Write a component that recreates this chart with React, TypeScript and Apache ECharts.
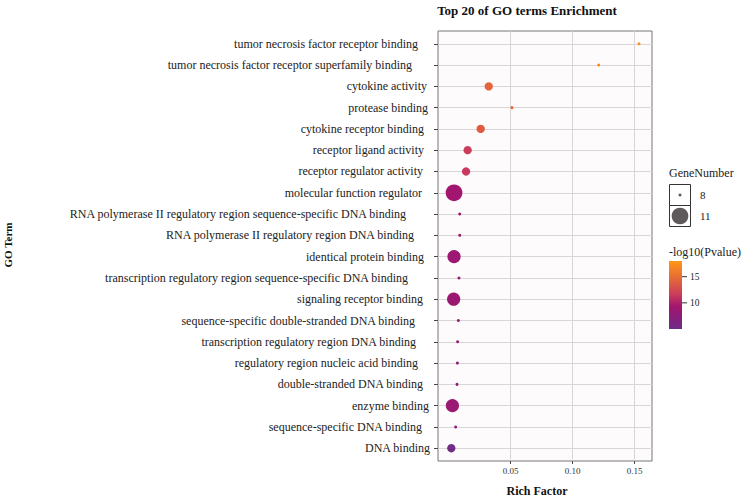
import React, { useEffect, useRef } from "react";
import * as echarts from "echarts";

const categories = [
  "tumor necrosis factor receptor binding",
  "tumor necrosis factor receptor superfamily binding",
  "cytokine activity",
  "protease binding",
  "cytokine receptor binding",
  "receptor ligand activity",
  "receptor regulator activity",
  "molecular function regulator",
  "RNA polymerase II regulatory region sequence-specific DNA binding",
  "RNA polymerase II regulatory region DNA binding",
  "identical protein binding",
  "transcription regulatory region sequence-specific DNA binding",
  "signaling receptor binding",
  "sequence-specific double-stranded DNA binding",
  "transcription regulatory region DNA binding",
  "regulatory region nucleic acid binding",
  "double-stranded DNA binding",
  "enzyme binding",
  "sequence-specific DNA binding",
  "DNA binding",
];
const richFactor = [
  0.1535, 0.121, 0.0323, 0.051, 0.0258, 0.0153, 0.014, 0.0043, 0.0089, 0.0089,
  0.0043, 0.0083, 0.004, 0.0078, 0.0072, 0.007, 0.0067, 0.003, 0.0056, 0.0021,
];
const geneNumber = [8, 8, 9, 8, 9, 9, 9, 11, 8, 8, 10, 8, 10, 8, 8, 8, 8, 10, 8, 9];
const negLog10P = [
  17.6, 17.2, 14.4, 14.6, 13.8, 11.7, 11.5, 9.3, 8.6, 8.6, 8.8, 8.4, 8.7, 8.3, 8.2,
  8.1, 8.0, 8.5, 7.8, 5.2,
];
const xTicks = [0.05, 0.1, 0.15];
const sizeBreaks = [8, 11];
const colorBreaks = [10, 15];
const colorMin = 5;
const colorMax = 18;
const palette = ["#6c2e86", "#881e7a", "#a3166f", "#c93a5d", "#de5a44", "#ef7a2c", "#fd9816"];

const FONT = "Liberation Serif";

function dotSize(n: number) {
  const k = n - 8.34;
  if (k <= 0) return 3;
  return Math.max(3, Math.sqrt(105 * k));
}

export default function App() {
  const ref = useRef<HTMLDivElement>(null);
  useEffect(() => {
    const chart = echarts.init(ref.current!, null, { renderer: "svg" });
    const rows = categories.map((_, i) => [richFactor[i], i, geneNumber[i], negLog10P[i]]);
    const rich: Record<string, any> = {};
    categories.forEach((c, i) => {
      rich["p" + i] = {
        fontFamily: FONT,
        fontSize: 12,
        color: "#222",
        padding: [0, Math.max(0, Math.round(0.45 * c.length - 2)), 0, 0],
      };
    });
    const yTicks = categories.map((_, i) => i);

    const barX = 669, barY = 261, barW = 13, barH = 68;
    const valToY = (v: number) => barY + barH - ((v - colorMin) / (colorMax - colorMin)) * barH;

    const legendGraphics: any[] = [
      { type: "text", x: 669, y: 173, style: { text: "GeneNumber", font: `12px "${FONT}"`, fill: "#222", verticalAlign: "middle" } },
      ...sizeBreaks.flatMap((n, k) => [
        { type: "rect", shape: { x: 669.5, y: 184.5 + k * 21, width: 21, height: 21 }, style: { fill: "#fff", stroke: "#333", lineWidth: 1 } },
        { type: "circle", shape: { cx: 680, cy: 195 + k * 21, r: dotSize(n) / 2 }, style: { fill: "#5e5a5c" } },
        { type: "text", x: 700, y: 195 + k * 21, style: { text: String(n), font: `11px "${FONT}"`, fill: "#222", verticalAlign: "middle" } },
      ]),
      { type: "text", x: 669, y: 252, style: { text: "-log10(Pvalue)", font: `12px "${FONT}"`, fill: "#222", verticalAlign: "middle" } },
      {
        type: "rect",
        shape: { x: barX, y: barY, width: barW, height: barH },
        style: {
          fill: new echarts.graphic.LinearGradient(0, 1, 0, 0, palette.map((c, i) => ({ offset: i / (palette.length - 1), color: c }))),
        },
      },
      ...colorBreaks.flatMap((v) => [
        { type: "line", shape: { x1: barX + barW, y1: valToY(v), x2: barX + barW + 5, y2: valToY(v) }, style: { stroke: "#333", lineWidth: 1 } },
        { type: "text", x: barX + barW + 8, y: valToY(v), style: { text: String(v), font: `9.5px "${FONT}"`, fill: "#222", verticalAlign: "middle" } },
      ]),
    ];

    chart.setOption({
      animation: false,
      grid: {
        left: 438,
        right: 93,
        top: 31,
        bottom: 37,
        show: true,
        backgroundColor: "#fdfbfc",
        borderColor: "#777",
        borderWidth: 1,
      },
      xAxis: {
        type: "value",
        min: -0.00863,
        max: 0.164,
        axisLine: { show: false, onZero: false },
        axisTick: { show: true, length: 3, customValues: xTicks, lineStyle: { color: "#444" } },
        axisLabel: {
          customValues: xTicks,
          formatter: (v: number) => v.toFixed(2),
          fontFamily: FONT,
          fontSize: 9,
          color: "#333",
          margin: 5,
        },
        splitLine: { show: true, lineStyle: { color: "#dad5d6", width: 1 } },
      },
      yAxis: {
        type: "value",
        min: -0.6,
        max: 19.6,
        inverse: true,
        axisLine: { show: false, onZero: false },
        axisTick: { show: true, length: 4, customValues: yTicks, lineStyle: { color: "#444" } },
        axisLabel: {
          customValues: yTicks,
          formatter: (v: number) => {
            const i = Math.round(v);
            return `{p${i}|${categories[i]}}`;
          },
          rich,
          margin: 5,
        },
        splitLine: { show: true, lineStyle: { color: "#dad5d6", width: 1 } },
      },
      visualMap: {
        show: false,
        type: "continuous",
        dimension: 3,
        min: colorMin,
        max: colorMax,
        inRange: { color: palette },
      },
      series: [
        {
          type: "scatter",
          data: rows,
          encode: { x: 0, y: 1 },
          symbolSize: (val: number[]) => dotSize(val[2]),
          itemStyle: { opacity: 1 },
        },
      ],
      graphic: [
        { type: "text", x: 527, y: 10, style: { text: "Top 20 of GO terms Enrichment", font: `bold 13px "${FONT}"`, fill: "#111", align: "center", verticalAlign: "middle" } },
        { type: "text", x: 537, y: 491, style: { text: "Rich Factor", font: `bold 12px "${FONT}"`, fill: "#111", align: "center", verticalAlign: "middle" } },
        { type: "text", x: 8, y: 245, rotation: Math.PI / 2, style: { text: "GO Term", font: `bold 11px "${FONT}"`, fill: "#111", align: "center", verticalAlign: "middle" } },
        ...legendGraphics,
      ],
    });
    return () => chart.dispose();
  }, []);
  return <div ref={ref} style={{ position: "absolute", left: 0, top: 0, width: 745, height: 498 }} />;
}
